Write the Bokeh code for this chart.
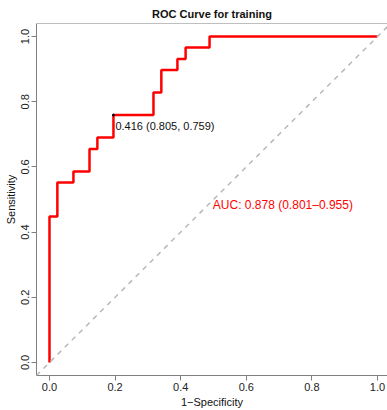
from bokeh.plotting import figure
from bokeh.models import ColumnDataSource, Range1d, FixedTicker, PrintfTickFormatter, Slope, Span
from bokeh.core.properties import value
from bokeh.embed import file_html
from bokeh.resources import INLINE

# ROC step vertices (1-Specificity, Sensitivity)
fpr = [0.0, 0.0, 0.024, 0.024, 0.073, 0.073, 0.122, 0.122, 0.146, 0.146, 0.195, 0.195,
       0.317, 0.317, 0.341, 0.341, 0.390, 0.390, 0.415, 0.415, 0.488, 0.488, 1.0]
tpr = [0.0, 0.448, 0.448, 0.552, 0.552, 0.586, 0.586, 0.655, 0.655, 0.690, 0.690, 0.759,
       0.759, 0.828, 0.828, 0.897, 0.897, 0.931, 0.931, 0.966, 0.966, 1.0, 1.0]

# best threshold
thr_x = [0.195]
thr_y = [0.759]
thr_label = ["0.416 (0.805, 0.759)"]
thr_text_x = [0.201]
thr_text_y = [0.725]

# AUC annotation
auc_label = ["AUC: 0.878 (0.801\u20130.955)"]
auc_x = [0.498]
auc_y = [0.483]

ticks = [0.0, 0.2, 0.4, 0.6, 0.8, 1.0]

FONT = "Liberation Sans"

p = figure(width=387, height=410, output_backend="svg", toolbar_location=None,
           x_range=Range1d(-0.0396, 1.0305), y_range=Range1d(-0.04, 1.04),
           min_border_left=36, min_border_right=0, min_border_top=23, min_border_bottom=32,
           title="ROC Curve for training")
p.title.text_font = FONT
p.title.text_font_size = "11px"
p.title.text_font_style = "bold"
p.title.align = "center"
p.title.text_color = "#111111"
p.title.standoff = 0
p.title.padding = 4

p.grid.visible = False
p.outline_line_color = None
p.background_fill_color = "white"
p.border_fill_color = "white"

for ax in (p.xaxis[0], p.yaxis[0]):
    ax.ticker = FixedTicker(ticks=ticks)
    ax.formatter = PrintfTickFormatter(format="%.1f")
    ax.axis_line_color = "#808080"
    ax.major_tick_line_color = "#808080"
    ax.minor_tick_line_color = None
    ax.major_tick_out = 5
    ax.major_tick_in = 0
    ax.major_label_text_font = FONT
    ax.major_label_text_font_size = "11px"
    ax.major_label_text_color = "#222222"
    ax.axis_label_text_font = FONT
    ax.axis_label_text_font_size = "11px"
    ax.axis_label_text_font_style = "normal"
    ax.axis_label_text_color = "#111111"
    ax.major_label_standoff = 2
    ax.axis_label_standoff = 2

p.xaxis.axis_label = "1\u2212Specificity"
p.yaxis.axis_label = "Sensitivity"
p.yaxis.major_label_orientation = "vertical"

top = Span(location=1.04, dimension="width", line_color="#808080", line_width=1)
p.add_layout(top)

diag = Slope(gradient=1, y_intercept=0, line_color="#b8b8b8", line_width=1.5, line_dash="5 5")
p.add_layout(diag)

p.line(fpr, tpr, line_color="#ff0000", line_width=2.5)

p.scatter(thr_x, thr_y, size=2, color="black")

src_thr = ColumnDataSource(dict(x=thr_text_x, y=thr_text_y, t=thr_label))
p.text("x", "y", text="t", source=src_thr, text_font=value(FONT), text_font_size="11px",
       text_align="left", text_baseline="middle", text_color="#111111")

src_auc = ColumnDataSource(dict(x=auc_x, y=auc_y, t=auc_label))
p.text("x", "y", text="t", source=src_auc, text_font=value(FONT), text_font_size="12px",
       text_align="left", text_baseline="middle", text_color="#ff0000")

open("out.html", "w").write(file_html(p, INLINE))
